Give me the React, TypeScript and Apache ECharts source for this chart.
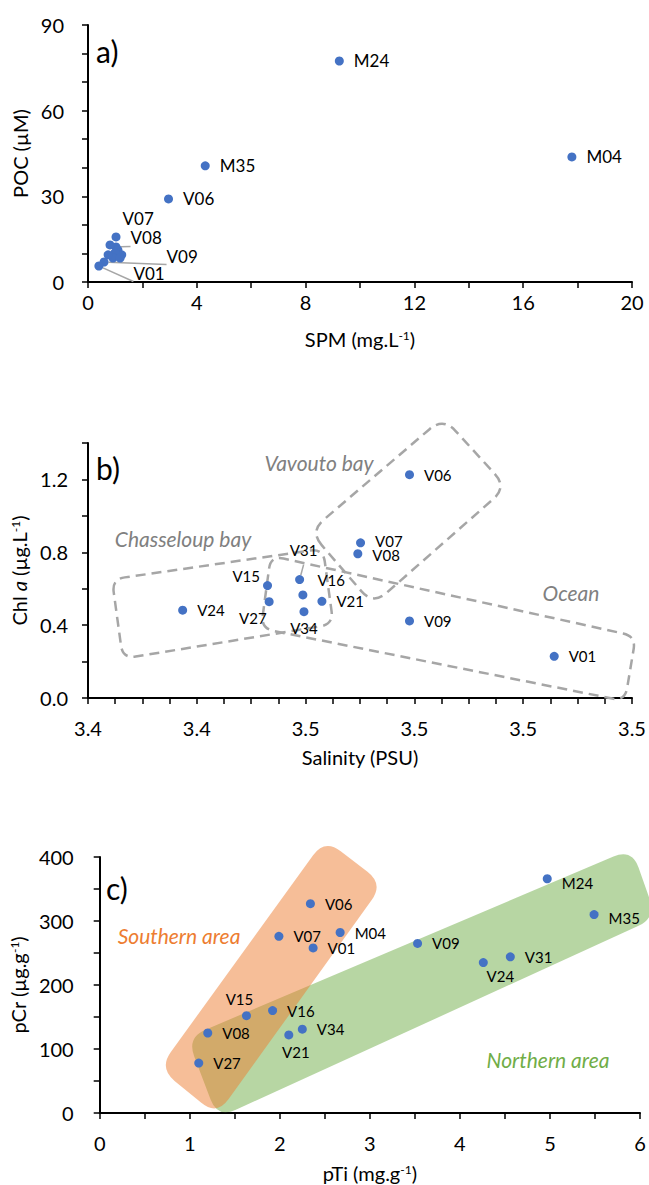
import React, { useEffect, useRef } from "react";
import * as echarts from "echarts";

const FONT = "Lato";
const BLUE = "#4472C4";

// ---------- Panel a: POC vs SPM ----------
const aStations = ["M24", "M04", "M35", "V06", "V07", "V08", "V09", "V01", "V15", "V16", "V21", "V24", "V27", "V31", "V34"];
const aSPM = [9.24, 17.79, 4.31, 2.96, 1.03, 1.03, 0.59, 0.4, 0.81, 1.1, 1.24, 0.99, 0.92, 1.18, 0.74];
const aPOC = [77.4, 43.8, 40.7, 29.1, 15.8, 12.3, 7.0, 5.6, 13.0, 11.2, 9.5, 10.2, 8.4, 8.4, 9.5];

// ---------- Panel b: Chl a vs Salinity ----------
const bStations = ["V24", "V15", "V27", "V31", "V16", "V34", "V21", "V07", "V08", "V06", "V09", "V01"];
const bSalinity = [3.4374, 3.453, 3.4533, 3.4589, 3.4595, 3.4597, 3.463, 3.4701, 3.4696, 3.4791, 3.4791, 3.5057];
const bChl = [0.482, 0.617, 0.529, 0.65, 0.566, 0.474, 0.531, 0.852, 0.792, 1.226, 0.423, 0.229];

// dashed groupings (data coordinates: salinity, chl a)
const bChasseloup = [[3.4244, 0.652], [3.4632, 0.82], [3.4651, 0.405], [3.4264, 0.216]];
const bOcean = [[3.4536, 0.781], [3.5207, 0.339], [3.5187, -0.017], [3.4518, 0.382]];
const bVavouto = [[3.4608, 0.914], [3.4853, 1.54], [3.4970, 1.158], [3.4724, 0.512]];

// ---------- Panel c: pCr vs pTi ----------
const cStations = ["V06", "V07", "V01", "M04", "V15", "V16", "V08", "V27", "V21", "V34", "V09", "V24", "V31", "M24", "M35"];
const cTi = [2.34, 1.99, 2.37, 2.67, 1.63, 1.92, 1.2, 1.1, 2.1, 2.25, 3.53, 4.26, 4.56, 4.97, 5.49];
const cCr = [327, 276, 258, 282, 152, 160, 125, 78, 122, 131, 265, 235, 244, 366, 310];

// filled groupings (data coordinates: pTi, pCr)
const cNorthern = [[0.97, 118], [5.91, 413], [6.18, 305], [1.31, -8]];
const cSouthern = [[0.66, 70], [2.5, 428], [3.15, 358], [1.3, -4]];

// label placement (style only)
type LabCfg = { pos?: string; dist?: number; off?: number[]; line?: boolean };
const aLabels: Record<string, LabCfg> = {
  M24: {}, M04: {}, M35: {}, V06: {},
  V07: { off: [-8, -18] },
  V08: { off: [0, -9], line: true },
  V09: { off: [48, -6], line: true },
  V01: { off: [20, 7], line: true },
};
const bLabels: Record<string, LabCfg> = {
  V24: {}, V21: {}, V06: {}, V09: {}, V01: {},
  V07: { off: [0, -2] },
  V08: { off: [0, 1] },
  V15: { pos: "left", dist: 3, off: [0, -10] },
  V27: { pos: "left", dist: 0, off: [2, 16] },
  V34: { pos: "bottom", dist: 4 },
  V31: { pos: "top", dist: 5, off: [4, -13], line: true },
  V16: { off: [0, -15] },
};
const cLabels: Record<string, LabCfg> = {
  V06: {}, V07: {}, V01: {}, M04: {}, V16: {}, V08: {}, V27: {}, V34: {}, V09: {}, V31: {},
  V15: { pos: "top", dist: 5, off: [-7, 0] },
  V21: { pos: "bottom", dist: 5, off: [7, 0] },
  V24: { pos: "bottom", dist: 1, off: [17, 0] },
  M24: { off: [0, 4] },
  M35: { off: [0, 3] },
};

function makeItems(names: string[], xs: number[], ys: number[], cfg: Record<string, LabCfg>) {
  return names.map((n, i) => {
    const c = cfg[n];
    const item: any = { name: n, value: [xs[i], ys[i]] };
    if (!c) {
      item.label = { show: false };
      return item;
    }
    item.label = { show: true, position: c.pos || "right", distance: c.dist ?? 10, offset: c.off || [0, 0] };
    if (c.line) {
      item.labelLine = { show: true, length2: 0, lineStyle: { color: "#A6A6A6", width: 1.5 } };
    }
    return item;
  });
}

function roundedPath(pts: number[][], r: number) {
  const n = pts.length;
  let d = "";
  for (let i = 0; i < n; i++) {
    const p = pts[i];
    const prev = pts[(i - 1 + n) % n];
    const next = pts[(i + 1) % n];
    const v1 = [prev[0] - p[0], prev[1] - p[1]];
    const v2 = [next[0] - p[0], next[1] - p[1]];
    const l1 = Math.hypot(v1[0], v1[1]);
    const l2 = Math.hypot(v2[0], v2[1]);
    const rr = Math.min(r, l1 / 2, l2 / 2);
    const a = [p[0] + (v1[0] / l1) * rr, p[1] + (v1[1] / l1) * rr];
    const b = [p[0] + (v2[0] / l2) * rr, p[1] + (v2[1] / l2) * rr];
    d += (i === 0 ? "M" : "L") + a[0] + " " + a[1] + " Q" + p[0] + " " + p[1] + " " + b[0] + " " + b[1] + " ";
  }
  return d + "Z";
}

const axisCommon = {
  axisLine: { show: true, onZero: false, lineStyle: { color: "#000", width: 2 } },
  axisTick: { show: true, inside: false, length: 6, lineStyle: { color: "#000", width: 1.5 } },
  splitLine: { show: false },
  nameLocation: "middle",
  nameTextStyle: {
    color: "#000",
    fontFamily: FONT,
    fontSize: 20,
    rich: {
      sup: { fontFamily: FONT, fontSize: 12, verticalAlign: "top", lineHeight: 12, color: "#000" },
      it: { fontFamily: FONT, fontSize: 20, fontStyle: "italic", color: "#000" },
    },
  },
};

function lab(margin: number, formatter: (v: number) => string) {
  return { color: "#000", fontFamily: FONT, fontSize: 20, margin, formatter };
}

function regionText(x: number, y: number, text: string, fill: string) {
  return {
    type: "text", x, y,
    style: {
      text, fontFamily: FONT, fontStyle: "italic", fontSize: 21, fill,
      align: "center", textAlign: "center", verticalAlign: "middle", textVerticalAlign: "middle",
    },
  };
}

function panelText(x: number, y: number, text: string) {
  return {
    type: "text", x, y,
    style: { text, fontFamily: FONT, fontSize: 30, fill: "#000", verticalAlign: "middle", textVerticalAlign: "middle" },
  };
}

export default function App() {
  const ref = useRef<HTMLDivElement>(null);
  useEffect(() => {
    document.body.style.margin = "0";
    if (!ref.current) return;
    const chart = echarts.init(ref.current, null, { renderer: "svg" });

    const bShapes = [bChasseloup, bOcean, bVavouto];
    const cShapes = [cNorthern, cSouthern];
    const cFills = ["rgba(112,173,71,0.5)", "rgba(237,125,49,0.5)"];

    const option: any = {
      animation: false,
      grid: [
        { left: 88, top: 25, width: 544, height: 257 },
        { left: 88, top: 443, width: 544, height: 255 },
        { left: 99, top: 857, width: 541, height: 256 },
      ],
      xAxis: [
        {
          ...axisCommon, gridIndex: 0, type: "value", min: 0, max: 20, interval: 2,
          name: "SPM (mg.L{sup|-1})", nameGap: 47,
          axisLabel: lab(10, (v) => (Math.round(v) % 4 === 0 ? String(v) : "")),
        },
        {
          ...axisCommon, gridIndex: 1, type: "value", min: 3.42, max: 3.52, interval: 0.005,
          name: "Salinity (PSU)", nameGap: 49,
          axisLabel: lab(20, (v) => (Math.round((v - 3.42) / 0.005) % 4 === 0 ? v.toFixed(1) : "")),
        },
        {
          ...axisCommon, gridIndex: 2, type: "value", min: 0, max: 6, interval: 0.5,
          name: "pTi (mg.g{sup|-1})", nameGap: 50,
          axisLabel: lab(20, (v) => (Math.abs(v - Math.round(v)) < 1e-6 ? String(Math.round(v)) : "")),
        },
      ],
      yAxis: [
        {
          ...axisCommon, gridIndex: 0, type: "value", min: 0, max: 90, interval: 10,
          name: "POC (µM)", nameGap: 46, nameRotate: 90,
          axisLabel: lab(24, (v) => (Math.round(v) % 30 === 0 ? String(v) : "")),
        },
        {
          ...axisCommon, gridIndex: 1, type: "value", min: 0, max: 1.4, interval: 0.2,
          name: "Chl {it|a} (µg.L{sup|-1})", nameGap: 52, nameRotate: 90,
          axisLabel: lab(20, (v) => (Math.round(v * 10) % 4 === 0 ? v.toFixed(1) : "")),
        },
        {
          ...axisCommon, gridIndex: 2, type: "value", min: 0, max: 400, interval: 50,
          name: "pCr (µg.g{sup|-1})", nameGap: 61, nameRotate: 90,
          axisLabel: lab(26, (v) => (Math.round(v) % 100 === 0 ? String(v) : "")),
        },
      ],
      series: [
        {
          type: "scatter", xAxisIndex: 0, yAxisIndex: 0, symbol: "circle", symbolSize: 9,
          itemStyle: { color: BLUE, opacity: 1 },
          label: { show: true, formatter: "{b}", color: "#000", fontFamily: FONT, fontSize: 17 },
          data: makeItems(aStations, aSPM, aPOC, aLabels),
          z: 3,
        },
        {
          type: "custom", xAxisIndex: 1, yAxisIndex: 1, clip: false, silent: true,
          data: bShapes.map((s) => s[0]),
          renderItem: (params: any, api: any) => {
            const pts = bShapes[params.dataIndex].map((p) => api.coord(p));
            const r = params.dataIndex === 2 ? 18 : 13;
            return {
              type: "path",
              shape: { pathData: roundedPath(pts, r) },
              style: { fill: "none", stroke: "#A6A6A6", lineWidth: 2.5, lineDash: [10, 6] },
            };
          },
          z: 1,
        },
        {
          type: "scatter", xAxisIndex: 1, yAxisIndex: 1, symbol: "circle", symbolSize: 9,
          itemStyle: { color: BLUE, opacity: 1 },
          label: { show: true, formatter: "{b}", color: "#000", fontFamily: FONT, fontSize: 15 },
          data: makeItems(bStations, bSalinity, bChl, bLabels),
          z: 3,
        },
        {
          type: "custom", xAxisIndex: 2, yAxisIndex: 2, clip: false, silent: true,
          data: cShapes.map((s) => s[0]),
          renderItem: (params: any, api: any) => {
            const pts = cShapes[params.dataIndex].map((p) => api.coord(p));
            return {
              type: "path",
              shape: { pathData: roundedPath(pts, 20) },
              style: { fill: cFills[params.dataIndex], stroke: "none" },
            };
          },
          z: 1,
        },
        {
          type: "scatter", xAxisIndex: 2, yAxisIndex: 2, symbol: "circle", symbolSize: 9,
          itemStyle: { color: BLUE, opacity: 1 },
          label: { show: true, formatter: "{b}", color: "#000", fontFamily: FONT, fontSize: 15 },
          data: makeItems(cStations, cTi, cCr, cLabels),
          z: 3,
        },
      ],
      graphic: [
        panelText(96, 51, "a)"),
        panelText(96, 468, "b)"),
        panelText(106, 888, "c)"),
        regionText(183, 538, "Chasseloup bay", "#808080"),
        regionText(319, 462, "Vavouto bay", "#808080"),
        regionText(571, 592, "Ocean", "#808080"),
        regionText(179, 935, "Southern area", "#ED7D31"),
        regionText(548, 1059, "Northern area", "#70AD47"),
      ],
    };
    chart.setOption(option);
    return () => chart.dispose();
  }, []);
  return <div ref={ref} style={{ width: 649, height: 1185 }} />;
}
